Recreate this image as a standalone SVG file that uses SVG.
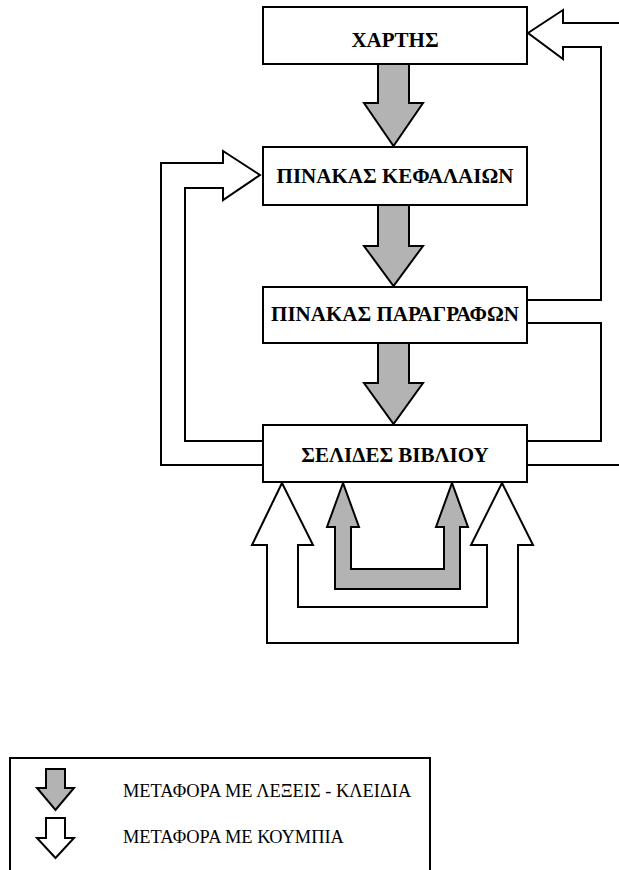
<svg xmlns="http://www.w3.org/2000/svg" width="619" height="870" viewBox="0 0 619 870">
<style>
.box{fill:#fff;stroke:#000;stroke-width:2}
.lbl{font-family:"Liberation Serif","Times New Roman",serif;font-weight:bold;font-size:21px;text-anchor:middle;fill:#000}
.leg{font-family:"Liberation Serif","Times New Roman",serif;font-size:18.4px;fill:#000}
.ga{fill:#b3b3b3;stroke:#000;stroke-width:2;stroke-linejoin:miter}
.wa{fill:#fff;stroke:#000;stroke-width:2}
.ln{fill:none;stroke:#000;stroke-width:2}
</style>
<rect width="619" height="870" fill="#fff"/>
<g id="connectors">
<path class="ga" d="M378,64 H409 V103 H423 L393.5,146 L364,103 H378 Z"/>
<path class="ga" d="M378,205 H409 V246 H423 L393.5,286 L364,246 H378 Z"/>
<path class="ga" d="M378,343 H409 V383 H423 L393.5,424 L364,383 H378 Z"/>
<path class="ln" d="M262,465 H161 V163 H223 V151 L260,175 L223,200 V188 H185 V441 H262"/>
<path class="ln" d="M619,23 H563 V10 L528,33 L563,59 V47 H601 V300 H527"/>
<path class="ln" d="M527,323 H601 V441 H527"/>
<path class="ln" d="M527,465 H620"/>
<path class="wa" d="M282,483 L252,545 H267 V643 H518 V545 H533 L502,483 L471,545 H487 V607 H298 V545 H313 Z"/>
<path class="ga" d="M343,483 L327,527 H335 V589 H460 V527 H468 L452,483 L436,527 H444 V569 H351 V527 H359 Z"/>
</g>
<g id="n1">
<rect class="box" x="263" y="7" width="264" height="57"/>
<text class="lbl" x="395" y="47">ΧΑΡΤΗΣ</text>
</g>
<g id="n2">
<rect class="box" x="263" y="147" width="264" height="58"/>
<text class="lbl" x="395" y="183">ΠΙΝΑΚΑΣ ΚΕΦΑΛΑΙΩΝ</text>
</g>
<g id="n3">
<rect class="box" x="263" y="287" width="264" height="56"/>
<text class="lbl" x="395" y="320.5">ΠΙΝΑΚΑΣ ΠΑΡΑΓΡΑΦΩΝ</text>
</g>
<g id="n4">
<rect class="box" x="263" y="425" width="264" height="57"/>
<text class="lbl" x="395" y="461.5">ΣΕΛΙΔΕΣ ΒΙΒΛΙΟΥ</text>
</g>
<g id="legend">
<rect class="box" x="10" y="758" width="420" height="130"/>
<path class="ga" d="M46,769 H65 V788 H74 L55.5,810 L37,788 H46 Z"/>
<path class="wa" d="M46,818 H65 V838 H74 L55.5,858 L37,838 H46 Z"/>
<text class="leg" x="123" y="797">ΜΕΤΑΦΟΡΑ ΜΕ ΛΕΞΕΙΣ - ΚΛΕΙΔΙΑ</text>
<text class="leg" x="123" y="843">ΜΕΤΑΦΟΡΑ ΜΕ ΚΟΥΜΠΙΑ</text>
</g>
</svg>
